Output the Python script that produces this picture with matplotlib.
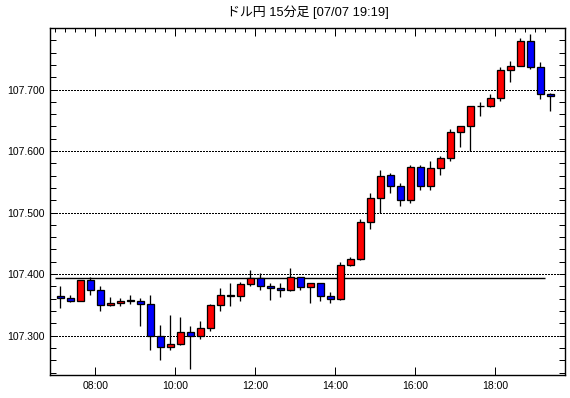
import matplotlib
matplotlib.use("Agg")
import matplotlib.pyplot as plt
import numpy as np

plt.rcParams['font.family'] = ['Liberation Sans', 'Noto Sans CJK JP', 'DejaVu Sans']

times = ["07:00", "07:15", "07:30", "07:45", "08:00", "08:15", "08:30", "08:45",
         "09:00", "09:15", "09:30", "09:45", "10:00", "10:15", "10:30", "10:45",
         "11:00", "11:15", "11:30", "11:45", "12:00", "12:15", "12:30", "12:45",
         "13:00", "13:15", "13:30", "13:45", "14:00", "14:15", "14:30", "14:45",
         "15:00", "15:15", "15:30", "15:45", "16:00", "16:15", "16:30", "16:45",
         "17:00", "17:15", "17:30", "17:45", "18:00", "18:15", "18:30", "18:45",
         "19:00", "19:15"]

opens = [107.365, 107.361, 107.357, 107.390, 107.374, 107.350, 107.353, 107.357, 107.357, 107.352,
         107.300, 107.282, 107.287, 107.306, 107.300, 107.313, 107.350, 107.365, 107.365, 107.384,
         107.394, 107.381, 107.377, 107.374, 107.395, 107.379, 107.386, 107.365, 107.360, 107.414,
         107.424, 107.485, 107.523, 107.561, 107.544, 107.521, 107.574, 107.544, 107.573, 107.589,
         107.631, 107.640, 107.673, 107.673, 107.687, 107.732, 107.739, 107.779, 107.737, 107.692]
highs = [107.381, 107.366, 107.390, 107.395, 107.381, 107.363, 107.361, 107.366, 107.361, 107.366,
         107.318, 107.333, 107.331, 107.315, 107.323, 107.352, 107.377, 107.386, 107.387, 107.406,
         107.402, 107.386, 107.386, 107.410, 107.395, 107.386, 107.386, 107.371, 107.419, 107.427,
         107.489, 107.531, 107.569, 107.565, 107.548, 107.577, 107.577, 107.584, 107.592, 107.636,
         107.641, 107.673, 107.679, 107.692, 107.737, 107.747, 107.784, 107.790, 107.744, 107.694]
lows = [107.345, 107.354, 107.357, 107.366, 107.340, 107.348, 107.348, 107.351, 107.315, 107.276,
        107.261, 107.276, 107.285, 107.246, 107.295, 107.307, 107.340, 107.348, 107.357, 107.381,
        107.374, 107.358, 107.362, 107.373, 107.374, 107.353, 107.357, 107.353, 107.358, 107.413,
        107.423, 107.473, 107.500, 107.532, 107.511, 107.515, 107.537, 107.537, 107.561, 107.584,
        107.606, 107.600, 107.657, 107.671, 107.681, 107.713, 107.739, 107.734, 107.684, 107.665]
closes = [107.361, 107.357, 107.390, 107.374, 107.350, 107.353, 107.357, 107.357, 107.352, 107.300,
          107.282, 107.287, 107.306, 107.300, 107.313, 107.350, 107.366, 107.365, 107.384, 107.394,
          107.381, 107.377, 107.374, 107.395, 107.379, 107.386, 107.365, 107.360, 107.414, 107.424,
          107.485, 107.523, 107.560, 107.544, 107.521, 107.574, 107.544, 107.573, 107.589, 107.631,
          107.640, 107.673, 107.673, 107.687, 107.732, 107.739, 107.779, 107.737, 107.692, 107.689]

ref_level = 107.394
y_ticks = [107.300, 107.400, 107.500, 107.600, 107.700]
x_label_times = ["08:00", "10:00", "12:00", "14:00", "16:00", "18:00"]
title = "ドル円 15分足 [07/07 19:19]"

W, H = 570, 398
fig = plt.figure(figsize=(W / 100, H / 100), dpi=100)
L, R, T, B = 50, 565, 28, 375.3
ax = fig.add_axes([L / W, 1 - B / H, (R - L) / W, (B - T) / H])

px = 0.72  # one pixel in points
x = np.arange(len(times))
o = np.array(opens); c = np.array(closes)
h = np.array(highs); lo = np.array(lows)

# grid
for yv in y_ticks:
    ax.axhline(yv, color='black', lw=px, linestyle=(0, (1.5, 1.5)), zorder=1,
               antialiased=False)

# reference line
ax.hlines(ref_level, -0.5, len(times) - 1.5, color='black', lw=1.4 * px, zorder=2)

# wicks
ax.vlines(x, lo, h, color='black', lw=1.3 * px, zorder=3)

# bodies
colors = ['#FF0000' if cc > oo else ('#0000FF' if cc < oo else 'black') for oo, cc in zip(o, c)]
bot = np.minimum(o, c)
hgt = np.maximum(np.abs(c - o), 0.0004)
ax.bar(x, hgt, bottom=bot, width=0.68, color=colors, edgecolor='black',
       linewidth=1.3 * px, zorder=4)

ax.set_xlim(-1.03, 50.47)
ax.set_ylim(107.2355, 107.7956)

# y ticks
ax.set_yticks(y_ticks)
ax.set_yticklabels([f"{v:.3f}" for v in y_ticks])
ax.set_yticks(np.arange(107.24, 107.80, 0.02), minor=True)
ax.tick_params(axis='y', which='both', direction='in', left=True, right=True,
               length=4, width=px, labelsize=7.5, pad=4)

# x ticks
xpos = [times.index(t) - 0.5 for t in x_label_times]
ax.set_xticks(xpos)
ax.set_xticklabels(x_label_times)
ax.set_xticks(x - 0.5, minor=True)
ax.tick_params(axis='x', which='major', direction='in', bottom=True, top=True,
               length=6, width=px, labelsize=7.5, pad=4)
ax.tick_params(axis='x', which='minor', direction='in', bottom=False, top=True,
               length=3, width=px)

for s in ax.spines.values():
    s.set_linewidth(1.4 * px)

fig.text((L + R) / 2 / W, 1 - 12 / H, title, ha='center', va='center', fontsize=9.3)

fig.savefig("out.png", dpi=100)
